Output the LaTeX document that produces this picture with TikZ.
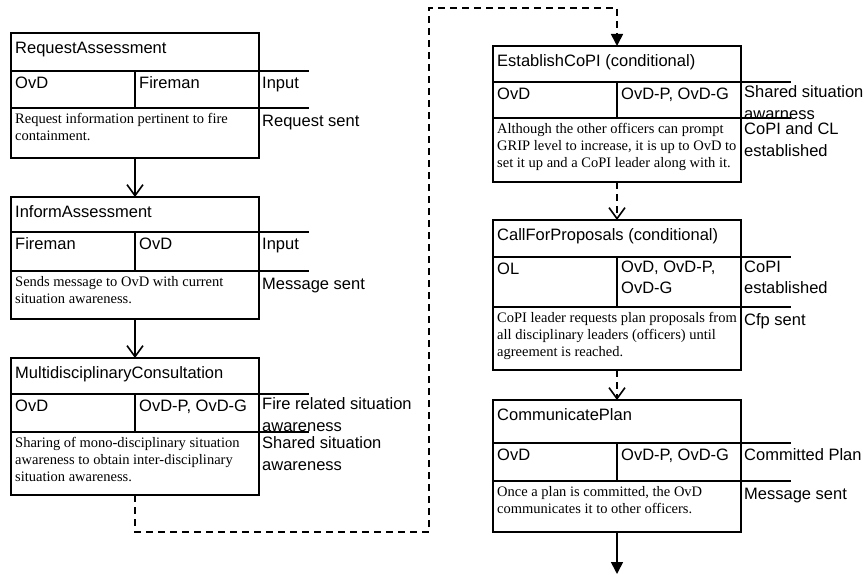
\documentclass[tikz,border=0pt]{standalone}
\usepackage{fontspec}
\setmainfont{Liberation Serif}
\setsansfont{Liberation Sans}
\usetikzlibrary{arrows.meta}

\tikzset{
  frame/.style={draw, line width=1.8pt, inner sep=0pt, outer sep=0pt},
  rowline/.style={line width=1.4pt},
  headtxt/.style={font=\sffamily\fontsize{16.5}{21.5}\selectfont, anchor=north west,
    inner sep=0pt, align=left, execute at begin node={\rule{0pt}{14pt}}},
  desctxt/.style={font=\rmfamily\fontsize{14.5}{17}\selectfont, anchor=north west,
    inner sep=0pt, align=left, execute at begin node={\rule{0pt}{13pt}}},
  flow/.style={line width=1.6pt, -{Straight Barb[length=11pt,width=16pt,line width=1.6pt]}},
  dflow/.style={flow, dash pattern=on 7pt off 5pt},
  sflow/.style={line width=1.6pt, -{Triangle[length=12pt,width=12pt]}},
  dsflow/.style={sflow, dash pattern=on 7pt off 5pt},
}

% activity frame: name, left, top, title bottom, role bottom, bottom
\newcommand{\actframe}[6]{%
  \node[frame, minimum width=248pt, minimum height={(#6-#3)*1pt}, anchor=north west] (#1) at (#2,#3) {};
  \draw[rowline] (#2,#4) -- ++(298,0);
  \draw[rowline] (#2,#5) -- ++(298,0);
  \draw[rowline] (#2+124,#4) -- (#2+124,#5);
}
% title row: name, left, top, text
\newcommand{\acthead}[4]{%
  \node[headtxt] (#1-title) at (#2+4,#3+6) {#4};
}
% role row: name, left, row top, initiator, receivers, input
\newcommand{\actroles}[6]{%
  \node[headtxt] (#1-from) at (#2+4,#3+3.5) {#4};
  \node[headtxt] (#1-to) at (#2+128,#3+3.5) {#5};
  \node[headtxt] (#1-in) at (#2+251,#3+3.5) {#6};
}
% description row: name, left, row top, text, output
\newcommand{\actdesc}[5]{%
  \node[desctxt] (#1-desc) at (#2+4,#3+5.5) {#4};
  \node[headtxt] (#1-out) at (#2+251,#3+4.5) {#5};
}

\begin{document}
\begin{tikzpicture}[x=1pt,y=-1pt]
\useasboundingbox (0,0) rectangle (865,575);

% left column
\actframe{ra}{11}{33}{71}{108}{158}
\acthead{ra}{11}{33}{RequestAssessment}
\actroles{ra}{11}{71}{OvD}{Fireman}{Input}
\actdesc{ra}{11}{108}{Request information pertinent to fire\\containment.}{Request sent}

\actframe{ia}{11}{197}{232}{271}{319}
\acthead{ia}{11}{197}{InformAssessment}
\actroles{ia}{11}{232}{Fireman}{OvD}{Input}
\actdesc{ia}{11}{271}{Sends message to OvD with current\\situation awareness.}{Message sent}

\actframe{mc}{11}{358}{394}{432}{495}
\acthead{mc}{11}{358}{MultidisciplinaryConsultation}
\actroles{mc}{11}{394}{OvD}{OvD-P, OvD-G}{Fire related situation\\awareness}
\actdesc{mc}{11}{432}{Sharing of mono-disciplinary situation\\awareness to obtain inter-disciplinary\\situation awareness.}{Shared situation\\awareness}

% right column
\actframe{ec}{493}{46}{82}{118}{182}
\acthead{ec}{493}{46}{EstablishCoPI (conditional)}
\actroles{ec}{493}{82}{OvD}{OvD-P, OvD-G}{Shared situation\\awarness}
\actdesc{ec}{493}{118}{Although the other officers can prompt\\GRIP level to increase, it is up to OvD to\\set it up and a CoPI leader along with it.}{CoPI and CL\\established}

\actframe{cf}{493}{220}{257}{307}{370}
\acthead{cf}{493}{220}{CallForProposals (conditional)}
\actroles{cf}{493}{257}{OL}{OvD, OvD-P,\\OvD-G}{CoPI\\established}
\actdesc{cf}{493}{307}{CoPI leader requests plan proposals from\\all disciplinary leaders (officers) until\\agreement is reached.}{Cfp sent}

\actframe{cp}{493}{400}{443}{481}{532}
\acthead{cp}{493}{400}{CommunicatePlan}
\actroles{cp}{493}{443}{OvD}{OvD-P, OvD-G}{Committed Plan}
\actdesc{cp}{493}{481}{Once a plan is committed, the OvD\\communicates it to other officers.}{Message sent}

% connectors
\coordinate (bendA) at (429,532);
\coordinate (bendB) at (429,8);
\coordinate (planout) at (617,574);

\draw[flow] (ra.south) -- (ia.north);
\draw[flow] (ia.south) -- (mc.north);
\draw[dsflow] (mc.south) |- (bendA) -- (bendB) -| (ec.north);
\draw[dflow] (ec.south) -- (cf.north);
\draw[dflow] (cf.south) -- (cp.north);
\draw[sflow] (cp.south) -- (planout);
\end{tikzpicture}
\end{document}
